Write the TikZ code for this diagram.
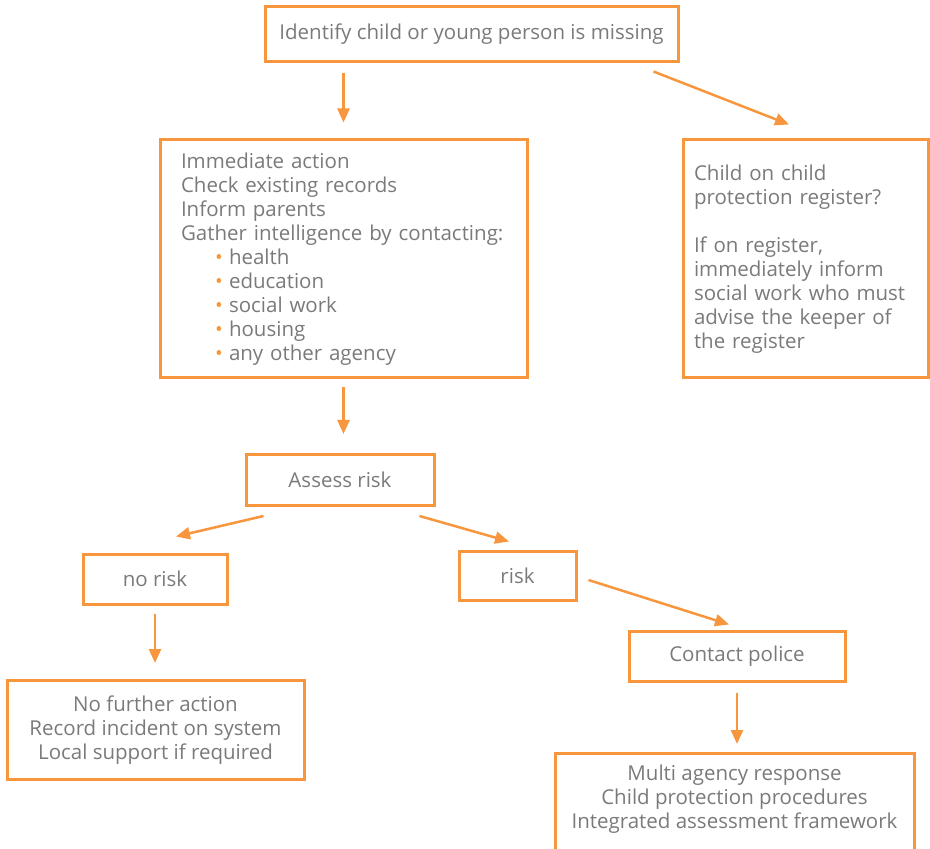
\documentclass[tikz,border=0pt]{standalone}
\usepackage{fontspec}
\setmainfont{Open Sans}
\usetikzlibrary{arrows.meta, calc, positioning}
\definecolor{boxorange}{HTML}{F7963D}
\definecolor{textgray}{HTML}{7A7A7A}
\newcommand{\bul}{\hspace*{17pt}\makebox[7pt][l]{\textcolor{boxorange}{•}}}

\begin{document}
\begin{tikzpicture}[x=0.5pt, y=-0.5pt, >={Triangle[length=7pt, width=6pt]},
  box/.style={draw=boxorange, line width=1.5pt, text=textgray, inner sep=3pt,
    font=\fontsize{10.25pt}{12pt}\selectfont},
  flow/.style={->, draw=boxorange, fill=boxorange, line width=1.25pt}]
  \useasboundingbox (0,0) rectangle (930,849);
  % Top
  \node[box, minimum width=206.5pt, minimum height=27.5pt] (missing) at (471.5,34.5)
    {Identify child or young person is missing};
  % Second row
  \node[box, minimum width=183.5pt, minimum height=119pt, text width=162.5pt,
    inner xsep=10.5pt, align=left] (action) at (343.5,259)
    {Immediate action\\ Check existing records\\ Inform parents\\
     Gather intelligence by contacting:\\ \bul health\\ \bul education\\
     \bul social work\\ \bul housing\\ \bul any other agency};
  \node[box, minimum width=122.5pt, minimum height=119pt, text width=111.5pt,
    inner xsep=5.5pt, align=left] (register) at (805.5,259)
    {Child on child\\ protection register?\\[12pt] If on register,\\
     immediately inform\\ social work who must\\ advise the keeper of\\ the register};
  % Risk
  \node[box, minimum width=94pt, minimum height=25.5pt] (assess) at (340,480) {Assess risk};
  \node[box, minimum width=72pt, minimum height=25pt] (norisk) at (155,579) {no risk};
  \node[box, minimum width=58.5pt, minimum height=24.5pt] (risk) at (517.5,575.5) {risk};
  \node[box, minimum width=108pt, minimum height=25pt] (police) at (737,656) {Contact police};
  % Outcomes
  \node[box, minimum width=148.5pt, minimum height=49.5pt, align=center] (nofurther) at (155.5,730)
    {No further action\\ Record incident on system\\ Local support if required};
  \node[box, minimum width=179.5pt, anchor=north, inner ysep=5.5pt, align=center] (multi) at (734.5,752)
    {Multi agency response\\ Child protection procedures\\ Integrated assessment framework\\[10pt] \mbox{}};
  % Arrows
  \draw[flow, shorten <=5pt, shorten >=8pt] (action.north |- missing.south) -- (action.north);
  \draw[flow] ($(missing.south east)+(-26,8)$) -- ($(register.north)+(-16.5,-14)$);
  \draw[flow, shorten <=4pt, shorten >=9.5pt] (action.south) -- (action.south |- assess.north);
  \draw[flow] ($(assess.south west)+(19,9)$) -- ($(norisk.north)+(21,-16)$);
  \draw[flow] ($(assess.south east)+(-16,9)$) -- ($(risk.north)+(-8.5,-8)$);
  \draw[flow, shorten <=4pt, shorten >=8pt] (norisk.south) -- (norisk.south |- nofurther.north);
  \draw[flow] ($(risk.east)+(11,4.5)$) -- ($(police.north)+(-8,-5)$);
  \draw[flow, shorten <=5pt, shorten >=4pt] (police.south) -- (police.south |- multi.north);
\end{tikzpicture}
\end{document}
